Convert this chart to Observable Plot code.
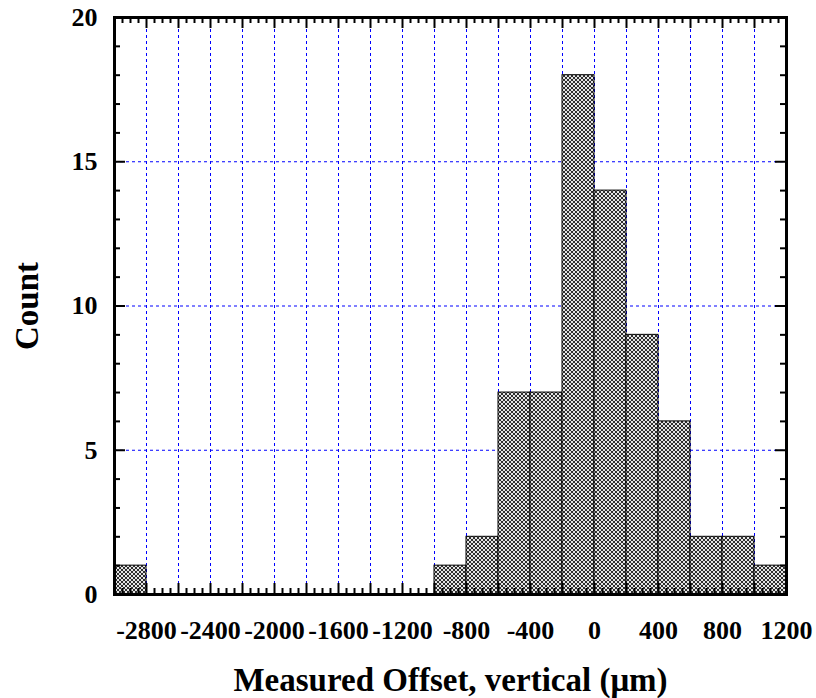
<!DOCTYPE html>
<html>
<head>
<meta charset="utf-8">
<script src="https://cdn.jsdelivr.net/npm/d3@7"></script>
<script src="https://cdn.jsdelivr.net/npm/@observablehq/plot@0.6"></script>
<style>
  html, body { margin: 0; padding: 0; background: #fff; }
  #chart svg { display: block; }
</style>
</head>
<body>
<svg width="0" height="0" style="position:absolute">
  <defs>
    <pattern id="hatch" patternUnits="userSpaceOnUse" width="4" height="4">
      <rect width="4" height="4" fill="#e4e4e4"></rect>
      <path d="M-1,1 l2,-2 M0,4 l4,-4 M3,5 l2,-2" stroke="#000" stroke-width="0.8"></path>
      <path d="M-1,3 l2,2 M0,0 l4,4 M3,-1 l2,2" stroke="#000" stroke-width="0.8"></path>
    </pattern>
  </defs>
</svg>
<div id="chart"></div>
<script>
// Bin edges (µm) and counts
const binStart = [-3000, -1000, -800, -600, -400, -200, 0, 200, 400, 600, 800, 1000];
const binEnd   = [-2800,  -800, -600, -400, -200,    0, 200, 400, 600, 800, 1000, 1200];
const counts   = [1, 1, 2, 7, 7, 18, 14, 9, 6, 2, 2, 1];

const xTickLabels = [-2800, -2400, -2000, -1600, -1200, -800, -400, 0, 400, 800, 1200];
const yTickLabels = [0, 5, 10, 15, 20];
const xGrid = d3.range(-2800, 1001, 200);
const yGrid = [5, 10, 15];
const xMajorTicks = d3.range(-2800, 1001, 200);
const xMinorTicks = d3.range(-2950, 1200, 50).filter(v => v % 200 !== 0);
const yMajorTicks = [5, 10, 15];
const yMinorTicks = d3.range(1, 20).filter(v => v % 5 !== 0);

const xTitle = "Measured Offset, vertical (μm)";
const yTitle = "Count";

const bins = binStart.map((s, i) => ({x1: s, x2: binEnd[i], count: counts[i]}));

const W = 816, H = 698;
const mL = 114, mR = 30, mT = 17, mB = 104;
const pw = W - mL - mR, ph = H - mT - mB;
const font = "'Liberation Serif', 'Times New Roman', serif";

const majorLen = 11, minorLen = 6;

const chart = Plot.plot({
  width: W,
  height: H,
  marginLeft: mL,
  marginRight: mR,
  marginTop: mT,
  marginBottom: mB,
  style: {fontFamily: font, fontWeight: "bold", background: "#fff"},
  x: {domain: [-3000, 1200], axis: null},
  y: {domain: [0, 20], axis: null},
  marks: [
    Plot.ruleX(xGrid, {x: d => d, stroke: "#0000ff", strokeWidth: 1, strokeDasharray: "3,3"}),
    Plot.ruleY(yGrid, {y: d => d, stroke: "#0000ff", strokeWidth: 1, strokeDasharray: "3,3"}),
    Plot.rectY(bins, {x1: "x1", x2: "x2", y: "count", fill: "url(#hatch)", stroke: "#000", strokeWidth: 1}),
    // bottom & top ticks
    Plot.ruleX(xMajorTicks, {x: d => d, insetTop: ph - majorLen, stroke: "#000", strokeWidth: 2}),
    Plot.ruleX(xMajorTicks, {x: d => d, insetBottom: ph - majorLen, stroke: "#000", strokeWidth: 2}),
    Plot.ruleX(xMinorTicks, {x: d => d, insetTop: ph - minorLen, stroke: "#000", strokeWidth: 2}),
    Plot.ruleX(xMinorTicks, {x: d => d, insetBottom: ph - minorLen, stroke: "#000", strokeWidth: 2}),
    // left & right ticks
    Plot.ruleY(yMajorTicks, {y: d => d, insetRight: pw - majorLen, stroke: "#000", strokeWidth: 2}),
    Plot.ruleY(yMajorTicks, {y: d => d, insetLeft: pw - majorLen, stroke: "#000", strokeWidth: 2}),
    Plot.ruleY(yMinorTicks, {y: d => d, insetRight: pw - minorLen, stroke: "#000", strokeWidth: 2}),
    Plot.ruleY(yMinorTicks, {y: d => d, insetLeft: pw - minorLen, stroke: "#000", strokeWidth: 2}),
    Plot.frame({stroke: "#000", strokeWidth: 3}),
    // tick labels
    Plot.text(xTickLabels, {x: d => d, frameAnchor: "bottom", text: d => String(d), dy: 44, lineAnchor: "bottom", textAnchor: "middle", fontSize: 26, fontWeight: "bold", fill: "#000"}),
    Plot.text(yTickLabels, {y: d => d, frameAnchor: "left", text: d => String(d), dx: -17, lineAnchor: "middle", textAnchor: "end", fontSize: 26, fontWeight: "bold", fill: "#000"}),
    // axis titles
    Plot.text([xTitle], {frameAnchor: "bottom", text: d => d, dy: 96, lineAnchor: "bottom", textAnchor: "middle", fontSize: 33, fontWeight: "bold", fill: "#000"}),
    Plot.text([yTitle], {frameAnchor: "left", text: d => d, dx: -77, rotate: -90, lineAnchor: "bottom", textAnchor: "middle", fontSize: 33, fontWeight: "bold", fill: "#000"})
  ]
});
document.getElementById("chart").appendChild(chart);
</script>
</body>
</html>
